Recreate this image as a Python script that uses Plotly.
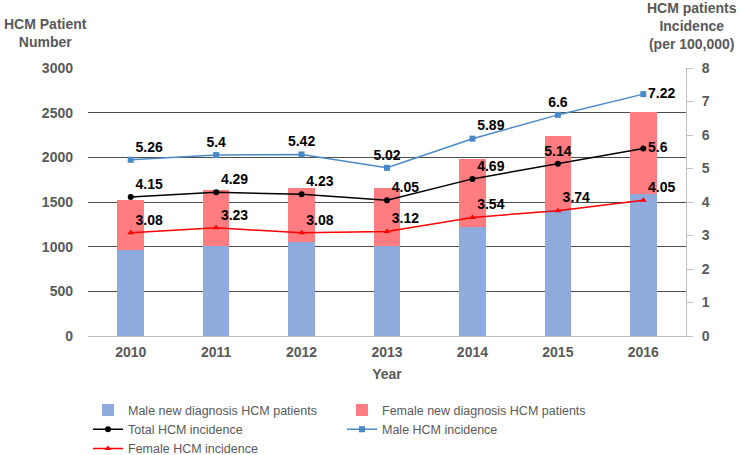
import plotly.graph_objects as go

years = ["2010", "2011", "2012", "2013", "2014", "2015", "2016"]
male_patients = [963, 1011, 1053, 1004, 1224, 1411, 1590]
female_patients = [560, 624, 608, 650, 754, 829, 918]
total_incidence = [4.15, 4.29, 4.23, 4.05, 4.69, 5.14, 5.6]
male_incidence = [5.26, 5.4, 5.42, 5.02, 5.89, 6.6, 7.22]
female_incidence = [3.08, 3.23, 3.08, 3.12, 3.54, 3.74, 4.05]

FONT = "Arial, Liberation Sans, sans-serif"
GRAY = "#595959"

fig = go.Figure()
fig.add_trace(go.Bar(x=years, y=male_patients, name="Male new diagnosis HCM patients",
                     marker=dict(color="#8FAADC", line=dict(width=0)), width=0.31))
fig.add_trace(go.Bar(x=years, y=female_patients, name="Female new diagnosis HCM patients",
                     marker=dict(color="#FF7C80", line=dict(width=0)), width=0.31))

lab_font = dict(family=FONT, size=14, color="black", weight="bold")
fig.add_trace(go.Scatter(x=years, y=total_incidence, name="Total HCM incidence", yaxis="y2",
                         mode="lines+markers+text", text=[str(v) for v in total_incidence],
                         textposition=["top right", "top right", "top right", "top right", "top right", "top center", "middle right"],
                         textfont=lab_font, cliponaxis=False,
                         line=dict(color="black", width=1.5), marker=dict(symbol="circle", size=6, color="black")))
fig.add_trace(go.Scatter(x=years, y=male_incidence, name="Male HCM incidence", yaxis="y2",
                         mode="lines+markers+text", text=[str(v) for v in male_incidence],
                         textposition=["top right", "top center", "top center", "top center", "top right", "top center", "middle right"],
                         textfont=lab_font, cliponaxis=False,
                         line=dict(color="#4A89C8", width=1.5), marker=dict(symbol="square", size=6, color="#4A89C8")))
fig.add_trace(go.Scatter(x=years, y=female_incidence, name="Female HCM incidence", yaxis="y2",
                         mode="lines+markers+text", text=[str(v) for v in female_incidence],
                         textposition=["top right"] * 7,
                         textfont=lab_font, cliponaxis=False,
                         line=dict(color="#FF0000", width=1.5), marker=dict(symbol="triangle-up", size=6, color="#FF0000")))

tick_font = dict(family=FONT, size=14, color=GRAY, weight="bold")
fig.update_layout(
    width=740, height=480,
    margin=dict(l=88, r=54, t=68, b=144, autoexpand=False),
    paper_bgcolor="white", plot_bgcolor="white",
    barmode="stack", bargap=0.69,
    font=dict(family=FONT, size=14, color=GRAY),
    showlegend=True,
    legend=dict(orientation="h", x=0.0, xanchor="left", y=-0.222, yanchor="top",
                entrywidth=209, entrywidthmode="pixels", itemwidth=30,
                traceorder="normal", font=dict(family=FONT, size=12.5, color=GRAY)),
    xaxis=dict(type="category", tickfont=tick_font, showline=True, linecolor="#BFBFBF",
               ticks="", showgrid=False, ticklabelstandoff=3,
               title=dict(text="Year", font=dict(family=FONT, size=14, color=GRAY, weight="bold"), standoff=10)),
    yaxis=dict(range=[0, 3000], dtick=500, tickfont=tick_font, showgrid=True, gridcolor="#4D4D4D",
               gridwidth=1, showline=False, zeroline=False, ticks="", ticklabelstandoff=14),
    yaxis2=dict(range=[0, 8], dtick=1, overlaying="y", side="right", tickfont=tick_font,
                showgrid=False, zeroline=False, showline=True, linecolor="#BFBFBF",
                ticks="outside", ticklen=6, tickcolor="#BFBFBF", ticklabelstandoff=6),
    annotations=[
        dict(text="<b>HCM Patient<br>Number</b>", xref="paper", yref="paper", x=-0.0719, y=1.2,
             xanchor="center", yanchor="top", showarrow=False,
             font=dict(family=FONT, size=14, color=GRAY)),
        dict(text="<b>HCM patients<br>Incidence<br>(per 100,000)</b>", xref="paper", yref="paper",
             x=1.01, y=1.262, xanchor="center", yanchor="top", showarrow=False,
             font=dict(family=FONT, size=14, color=GRAY)),
    ],
)

fig.write_html("out.html", config={"displayModeBar": False},
               post_script="document.body.style.margin='0';document.body.style.overflow='hidden';")
